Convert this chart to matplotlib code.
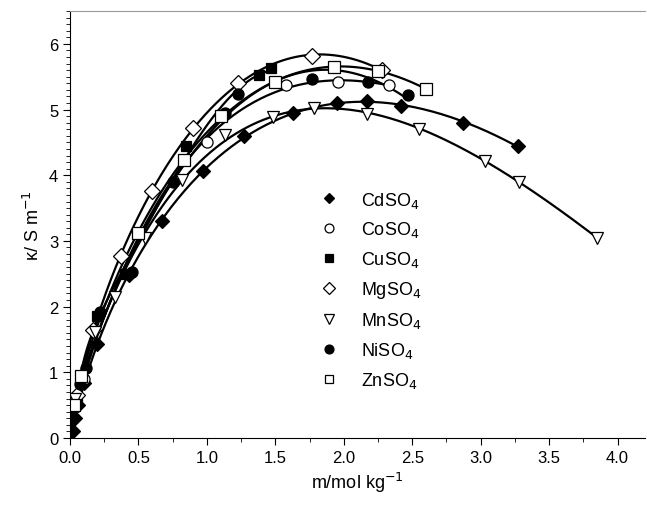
import matplotlib
matplotlib.use("Agg")
import matplotlib.pyplot as plt
import numpy as np
from matplotlib.ticker import MultipleLocator

plt.rcParams['font.family'] = ['Liberation Sans', 'DejaVu Sans']

names = ["CdSO$_4$", "CoSO$_4$", "CuSO$_4$", "MgSO$_4$", "MnSO$_4$", "NiSO$_4$", "ZnSO$_4$"]
cd_x = [0.02,0.04,0.06,0.1,0.2,0.43,0.67,0.97,1.27,1.63,1.95,2.17,2.42,2.87,3.27]
cd_y = [0.1,0.3,0.5,0.83,1.43,2.48,3.3,4.06,4.6,4.94,5.1,5.13,5.05,4.8,4.45]
co_x = [0.03,0.1,0.5,1.0,1.58,1.96,2.33]
co_y = [0.5,0.9,3.1,4.5,5.38,5.42,5.37]
cu_x = [0.05,0.2,0.4,0.85,1.1,1.38,1.47]
cu_y = [0.6,1.85,2.5,4.45,4.9,5.52,5.63]
mg_x = [0.05,0.17,0.37,0.6,0.9,1.23,1.77,2.28]
mg_y = [0.65,1.65,2.77,3.76,4.72,5.4,5.82,5.6]
mn_x = [0.04,0.18,0.33,0.55,0.82,1.13,1.48,1.78,2.17,2.55,3.03,3.28,3.85]
mn_y = [0.6,1.62,2.15,3.05,3.92,4.62,4.88,5.02,4.93,4.7,4.22,3.9,3.05]
ni_x = [0.03,0.07,0.12,0.22,0.45,0.75,1.13,1.23,1.77,2.18,2.47]
ni_y = [0.5,0.82,1.07,1.92,2.52,3.9,4.95,5.23,5.47,5.42,5.22]
zn_x = [0.03,0.08,0.5,0.83,1.1,1.5,1.93,2.25,2.6]
zn_y = [0.5,0.95,3.12,4.23,4.9,5.42,5.65,5.58,5.32]

series = [(cd_x,cd_y,'D','black',7),(co_x,co_y,'o','white',8),(cu_x,cu_y,'s','black',7),
          (mg_x,mg_y,'D','white',8),(mn_x,mn_y,'v','white',9),(ni_x,ni_y,'o','black',8),
          (zn_x,zn_y,'s','white',8)]

fig = plt.figure(figsize=(6.47,5.06), dpi=100)
ax = fig.add_axes([70/647, 1-439/506, 575/647, 427/506])
for (x,y,m,fc,ms),n in zip(series,names):
    x = np.array(x); y = np.array(y)
    deg = min(4, len(x)-2)
    c = np.polyfit(np.sqrt(x), y, deg)
    xs = np.linspace(0, x.max(), 200)
    ax.plot(xs, np.polyval(c, np.sqrt(xs)), '-', color='black', lw=1.6, zorder=1)
    ax.plot(x,y,ls='none',marker=m,mfc=fc,mec='black',ms=ms,mew=0.9,label=n,zorder=2)
ax.set_xlim(0,4.2)
ax.set_ylim(0,6.5)
ax.xaxis.set_major_locator(MultipleLocator(0.5))
ax.xaxis.set_minor_locator(MultipleLocator(0.25))
ax.yaxis.set_major_locator(MultipleLocator(1))
ax.yaxis.set_minor_locator(MultipleLocator(0.1))
ax.tick_params(labelsize=12, direction='out', length=5)
ax.tick_params(which='minor', direction='out', length=3)
ax.set_xlabel("m/mol kg$^{-1}$", fontsize=13)
ax.set_ylabel("κ/ S m$^{-1}$", fontsize=13)
ax.spines['right'].set_visible(False)
ax.spines['top'].set_color('#999999')
ax.legend(loc='upper left', bbox_to_anchor=(0.39,0.62), frameon=False, fontsize=13,
          handletextpad=0.8, labelspacing=0.55, markerscale=0.8)
fig.savefig("out.png")
